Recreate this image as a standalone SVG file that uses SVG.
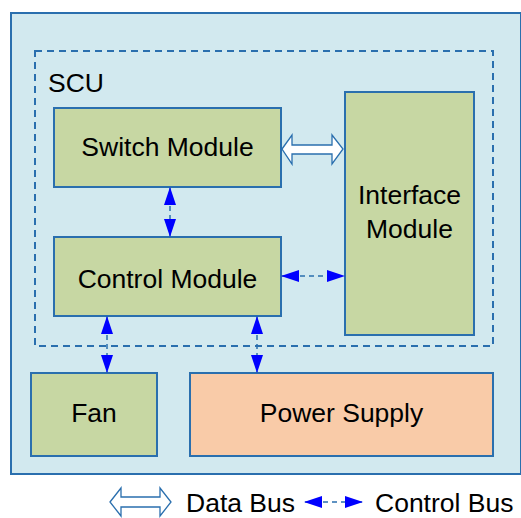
<svg xmlns="http://www.w3.org/2000/svg" width="521" height="518" viewBox="0 0 521 518">
<style>
.box{stroke:#2a6fae;stroke-width:2}
.g{fill:#c7d7a3}
.o{fill:#f9cba8}
.t{font-family:"Liberation Sans",Arial,sans-serif;font-size:26.5px;fill:#000}
.c{stroke:#2a6fae;stroke-width:1.5;stroke-dasharray:5 4;fill:none}
.d{fill:#fff;stroke:#2a6fae;stroke-width:1.3}
</style>
<defs>
<marker id="ah" markerUnits="userSpaceOnUse" markerWidth="18" markerHeight="12" refX="17" refY="6" orient="auto-start-reverse" viewBox="0 0 18 12">
<path d="M0,0 L18,6 L0,12 z" fill="#0000ff"/>
</marker>
</defs>
<rect x="0" y="0" width="521" height="518" fill="#fff"/>
<g id="outer"><rect x="11" y="13" width="510" height="461" fill="#d2e9ef" class="box"/></g>
<g id="scu">
<rect x="35" y="51" width="458" height="295" fill="none" stroke="#2a6fae" stroke-width="2" stroke-dasharray="7 5"/>
<text class="t" x="48" y="92">SCU</text>
</g>
<g id="switch"><rect x="54" y="108" width="227" height="79" class="box g"/><text class="t" x="167.5" y="156" text-anchor="middle">Switch Module</text></g>
<g id="control"><rect x="54" y="237" width="227" height="79" class="box g"/><text class="t" x="167.5" y="288" text-anchor="middle">Control Module</text></g>
<g id="interface"><rect x="345" y="92" width="129" height="243" class="box g"/><text class="t" x="409.5" y="204" text-anchor="middle">Interface</text><text class="t" x="409.5" y="238" text-anchor="middle">Module</text></g>
<g id="fan"><rect x="31" y="373" width="126" height="83" class="box g"/><text class="t" x="94" y="422" text-anchor="middle">Fan</text></g>
<g id="power"><rect x="190" y="373" width="303" height="83" class="box o"/><text class="t" x="341.5" y="422" text-anchor="middle">Power Supply</text></g>
<g id="connectors">
<path class="d" d="M282,149 L292,135 L292,145 L332,145 L332,135 L343,149 L332,164 L332,154 L292,154 L292,164 z"/>
<line class="c" x1="170" y1="188" x2="170" y2="236" marker-start="url(#ah)" marker-end="url(#ah)"/>
<line class="c" x1="282" y1="276" x2="344" y2="276" marker-start="url(#ah)" marker-end="url(#ah)"/>
<line class="c" x1="107" y1="317" x2="107" y2="372" marker-start="url(#ah)" marker-end="url(#ah)"/>
<line class="c" x1="257" y1="317" x2="257" y2="372" marker-start="url(#ah)" marker-end="url(#ah)"/>
</g>
<g id="legend">
<path class="d" d="M110,502 L121,488 L121,497 L160,497 L160,488 L171,502 L160,516 L160,507 L121,507 L121,516 z"/>
<text class="t" x="186" y="512">Data Bus</text>
<line class="c" x1="305" y1="502" x2="362" y2="502" marker-start="url(#ah)" marker-end="url(#ah)"/>
<text class="t" x="375" y="512">Control Bus</text>
</g>
</svg>
